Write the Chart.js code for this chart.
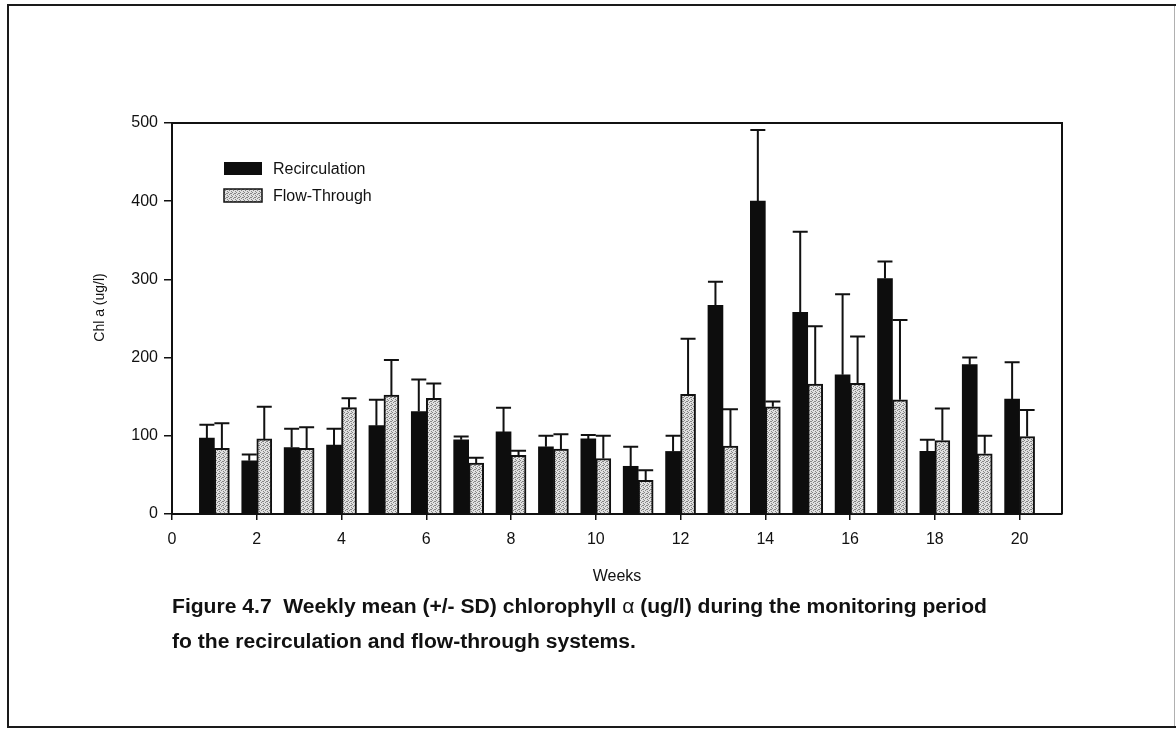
<!DOCTYPE html>
<html><head><meta charset="utf-8">
<script src="https://cdn.jsdelivr.net/npm/chart.js@4.4.1/dist/chart.umd.min.js"></script>
<style>
html,body{margin:0;padding:0;background:#fff;}
#wrap{position:relative;width:1176px;height:731px;overflow:hidden;background:#fff;}
#c{position:absolute;left:0;top:0;}
.frame{position:absolute;background:#1a1a1a;}
.cap{position:absolute;left:172px;font-family:"Liberation Sans",Arial,sans-serif;font-weight:bold;font-size:20px;line-height:23px;color:#111;white-space:nowrap;transform-origin:0 50%;}
</style></head><body>
<div id="wrap">
<canvas id="c" width="1176" height="731"></canvas>
<div class="frame" style="left:7px;top:4px;width:1169px;height:2px"></div>
<div class="frame" style="left:7px;top:4px;width:2px;height:724px"></div>
<div class="frame" style="left:7px;top:726px;width:1169px;height:2px"></div>
<div class="frame" style="left:1174px;top:6px;width:1px;height:720px;background:#b0b0b0"></div>
<div class="cap" id="cap1" style="top:595px">Figure 4.7&nbsp; Weekly mean (+/- SD) chlorophyll <span style="font-weight:normal">α</span> (ug/l) during the monitoring period</div>
<div class="cap" id="cap2" style="top:630px">fo the recirculation and flow-through systems.</div>
</div>
<script>
// ---- data ----
const weeks   = [1,2,3,4,5,6,7,8,9,10,11,12,13,14,15,16,17,18,19,20];
const recMean = [97,68,85,88,113,131,95,105,86,96,61,80,267,400,258,178,301,80,191,147];
const recSD   = [17,8,24,21,33,41,4,31,14,5,25,20,30,91,103,103,22,15,9,47];
const ftMean  = [84,96,84,136,152,148,65,75,83,71,43,153,87,137,166,167,146,94,77,99];
const ftSD    = [32,41,27,12,45,19,7,6,19,29,13,71,47,7,74,60,102,41,23,34];
const xTicks  = [0,2,4,6,8,10,12,14,16,18,20];
const yTicks  = [0,100,200,300,400,500];
const seriesNames = ['Recirculation','Flow-Through'];
const yTitle = 'Chl a (ug/l)';

const FONT = '"Liberation Sans", Arial, sans-serif';
const canvas = document.getElementById('c');
const mainCtx = canvas.getContext('2d');

function makePattern(){
  const t = document.createElement('canvas'); t.width = 4; t.height = 4;
  const g = t.getContext('2d');
  g.fillStyle = '#e0e0e0'; g.fillRect(0,0,4,4);
  g.fillStyle = '#858585';
  [[0,0],[2,1],[1,2],[3,3],[3,1]].forEach(p => g.fillRect(p[0],p[1],1,1));
  return mainCtx.createPattern(t,'repeat');
}
const ftPattern = makePattern();

const errorBars = {
  id: 'errorBars',
  afterDatasetsDraw(chart){
    const ctx = chart.ctx, ys = chart.scales.y;
    const sds = [recSD, ftSD];
    chart.data.datasets.forEach((ds, di) => {
      const meta = chart.getDatasetMeta(di);
      meta.data.forEach((el, j) => {
        const top = ys.getPixelForValue(ds.data[j].y + sds[di][j]);
        const w = el.width;
        ctx.save();
        ctx.strokeStyle = '#111'; ctx.lineWidth = 2;
        ctx.beginPath();
        ctx.moveTo(el.x, el.y); ctx.lineTo(el.x, top);
        ctx.moveTo(el.x - w/2, top); ctx.lineTo(el.x + w/2, top);
        ctx.stroke();
        ctx.restore();
      });
    });
  }
};

const frameAndLegend = {
  id: 'frameAndLegend',
  afterDraw(chart){
    const ctx = chart.ctx, a = chart.chartArea;
    ctx.save();
    ctx.strokeStyle = '#111'; ctx.lineWidth = 2;
    ctx.beginPath();
    ctx.moveTo(a.left, a.top); ctx.lineTo(a.right, a.top); ctx.lineTo(a.right, a.bottom);
    ctx.stroke();
    // y axis title (slightly above the plot's middle, as in the figure)
    ctx.save();
    ctx.translate(100, (a.top + a.bottom) / 2 - 11);
    ctx.rotate(-Math.PI / 2);
    ctx.font = '14px ' + FONT;
    ctx.fillStyle = '#111';
    ctx.textAlign = 'center'; ctx.textBaseline = 'middle';
    ctx.fillText(yTitle, 0, 0);
    ctx.restore();
    // legend
    const lx = a.left + 52, rows = [168.5, 195.5];
    ctx.font = '16px ' + FONT;
    ctx.textBaseline = 'middle';
    chart.data.datasets.forEach((ds, i) => {
      const cy = rows[i];
      ctx.fillStyle = ds.backgroundColor;
      ctx.fillRect(lx, cy - 6.5, 38, 13);
      if (ds.borderWidth) {
        ctx.strokeStyle = '#111'; ctx.lineWidth = 1.5;
        ctx.strokeRect(lx, cy - 6.5, 38, 13);
      }
      ctx.fillStyle = '#111';
      ctx.fillText(ds.label, lx + 49, cy + 1);
    });
    ctx.restore();
  }
};

new Chart(canvas, {
  type: 'bar',
  data: {
    datasets: [
      { label: seriesNames[0], data: weeks.map((w,i)=>({x:w, y:recMean[i]})),
        backgroundColor: '#0d0d0d', borderWidth: 0 },
      { label: seriesNames[1], data: weeks.map((w,i)=>({x:w, y:ftMean[i]})),
        backgroundColor: ftPattern, borderColor: '#111', borderWidth: 2 }
    ]
  },
  options: {
    responsive: false, animation: false, devicePixelRatio: 1,
    barThickness: 15,
    layout: { padding: { left: 92, top: 123, right: 114, bottom: 145 } },
    plugins: { legend: { display: false }, tooltip: { enabled: false } },
    scales: {
      x: {
        type: 'linear', min: 0, max: 21, offset: false,
        afterBuildTicks(s){ s.ticks = xTicks.map(v => ({value: v})); },
        afterFit(s){ s.height = 72; },
        grid: { display: true, offset: false, drawOnChartArea: false, drawTicks: true, tickLength: 6, color: '#111', lineWidth: 1.5 },
        border: { display: true, color: '#111', width: 2 },
        ticks: { color: '#111', font: { family: FONT, size: 16 }, padding: 10, maxRotation: 0, autoSkip: false },
        title: { display: true, text: 'Weeks', color: '#111', font: { family: FONT, size: 16 }, padding: { top: 0, bottom: 0 } }
      },
      y: {
        min: 0, max: 500,
        afterBuildTicks(s){ s.ticks = yTicks.map(v => ({value: v})); },
        afterFit(s){ s.width = 80; },
        grid: { display: true, drawOnChartArea: false, drawTicks: true, tickLength: 8, color: '#111', lineWidth: 1.5 },
        border: { display: true, color: '#111', width: 2 },
        ticks: { color: '#111', font: { family: FONT, size: 16 }, padding: 6 },
        title: { display: false }
      }
    }
  },
  plugins: [errorBars, frameAndLegend]
});

// fit caption lines to the figure's measured width
(function(){
  const c1 = document.getElementById('cap1'), c2 = document.getElementById('cap2');
  const k = 815 / c1.scrollWidth;
  c1.style.transform = 'scaleX(' + k + ')';
  c2.style.transform = 'scaleX(' + k + ')';
})();
</script>
</body></html>
